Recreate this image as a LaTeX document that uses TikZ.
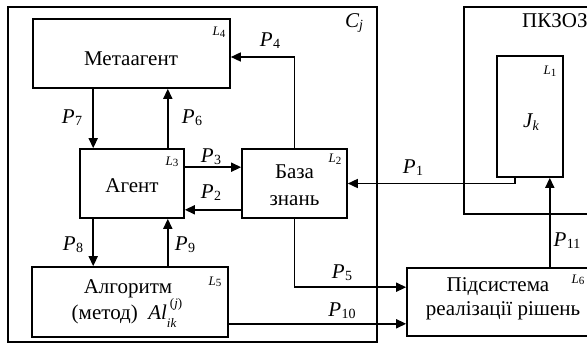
\documentclass[tikz,border=0pt]{standalone}
\usepackage{fontspec}
\setmainfont{Liberation Serif}
\usetikzlibrary{arrows.meta}
\newcommand{\Pl}[1]{{\itshape P}\kern0.3pt\raisebox{-2pt}{\fontsize{14}{14}\selectfont #1}}
\newcommand{\Ll}[1]{{\fontsize{13}{13}\selectfont\itshape L}\raisebox{-1.5pt}{\fontsize{11}{11}\selectfont #1}}
\begin{document}
\begin{tikzpicture}[x=1pt,y=-1pt,
  font=\fontsize{21}{26}\selectfont,
  box/.style={draw, line width=1.6pt, inner sep=0pt},
  arr/.style={line width=1.5pt, -{Triangle[length=10pt,width=9pt]}},
  lab/.style={inner sep=0pt},
  txt/.style={inner sep=0pt, anchor=base}]
\useasboundingbox (0,0) rectangle (587,345);
% containers
\node[box, minimum width=369pt, minimum height=335pt] (cj) at (192.5,174.5) {};
\node[box, minimum width=136pt, minimum height=207pt] (pk) at (532,110.5) {};
% blocks
\node[box, minimum width=197pt, minimum height=69pt] (meta) at (131.5,53.5) {};
\node[box, minimum width=104pt, minimum height=69pt] (agent) at (132,183.5) {};
\node[box, minimum width=105pt, minimum height=69pt] (baza) at (294.5,183.5) {};
\node[box, minimum width=196pt, minimum height=70pt] (alg) at (130,302) {};
\node[box, minimum width=193pt, minimum height=68pt] (pids) at (503.5,302) {};
\node[box, minimum width=66pt, minimum height=121pt] (jk) at (530,116.5) {};
% texts
\node[txt] (tmeta) at (131,66) {Метаагент};
\node[txt] (tagent) at (132,192) {Агент};
\node[txt] (tbaza1) at (294.5,178) {База};
\node[txt] (tbaza2) at (294.5,205) {знань};
\node[txt] (talg1) at (128,293) {Алгоритм};
\node[txt] (talg2) at (127,319) {(метод)\ \ {\itshape Al}\makebox[0pt][l]{\raisebox{-8pt}{\fontsize{13}{13}\selectfont\itshape ik}}\kern3pt\raisebox{12pt}{\fontsize{13}{13}\selectfont (\textit{j})}};
\node[txt] (tpids1) at (498,291) {Підсистема};
\node[txt] (tpids2) at (503,315) {реалізації рішень};
\node[txt, anchor=base west] (tpk) at (522,28) {ПКЗОЗ};
\node[txt] (tcj) at (354,28) {{\itshape C}\raisebox{-2pt}{\fontsize{14}{14}\selectfont\itshape j}};
\node[txt] (tjk) at (531,128) {{\itshape J}\raisebox{-2pt}{\fontsize{14}{14}\selectfont\itshape k}};
% L labels
\node[lab] (l1) at (550,71) {\Ll{1}};
\node[lab] (l2) at (335,159) {\Ll{2}};
\node[lab] (l3) at (172,162) {\Ll{3}};
\node[lab] (l4) at (219,32) {\Ll{4}};
\node[lab] (l5) at (215,282) {\Ll{5}};
\node[lab] (l6) at (578,280) {\Ll{6}};
% helper coordinates
\coordinate (c7) at ([xshift=14pt]agent.north west);
\coordinate (c6) at ([xshift=-17pt]agent.north east);
\coordinate (c4) at ([yshift=-3.5pt]meta.east);
\coordinate (c3) at ([yshift=-19pt]agent.north east);
\coordinate (c2) at ([yshift=9pt]agent.south east);
\coordinate (c1) at ([xshift=19pt]jk.south west);
\coordinate (c11) at ([xshift=-14pt]jk.south east);
\coordinate (c5) at ([yshift=-20pt]pids.north west);
\coordinate (c10) at ([yshift=14pt]alg.south east);
% connectors
\draw[arr] (baza.north) |- (c4);
\draw[arr] (meta.south -| c7) -- (c7);
\draw[arr] (c6) -- (meta.south -| c6);
\draw[arr] (c3) -- (baza.west |- c3);
\draw[arr] (baza.west |- c2) -- (c2);
\draw[arr] (agent.south -| c7) -- (alg.north -| c7);
\draw[arr] (alg.north -| c6) -- (agent.south -| c6);
\draw[arr] (c1) |- (baza.east);
\draw[arr] (pids.north -| c11) -- (c11);
\draw[arr] (baza.south) |- (c5);
\draw[arr] (c10) -- (pids.west |- c10);
% P labels
\node[lab] (p1) at (413,168) {\Pl{1}};
\node[lab] (p2) at (211,193) {\Pl{2}};
\node[lab] (p3) at (211,157) {\Pl{3}};
\node[lab] (p4) at (270,41) {\Pl{4}};
\node[lab] (p5) at (342,273) {\Pl{5}};
\node[lab] (p6) at (192,118) {\Pl{6}};
\node[lab] (p7) at (72,118) {\Pl{7}};
\node[lab] (p8) at (73,245) {\Pl{8}};
\node[lab] (p9) at (185,245) {\Pl{9}};
\node[lab] (p10) at (342,311) {\Pl{10}};
\node[lab] (p11) at (567,241) {\Pl{11}};
\end{tikzpicture}
\end{document}
